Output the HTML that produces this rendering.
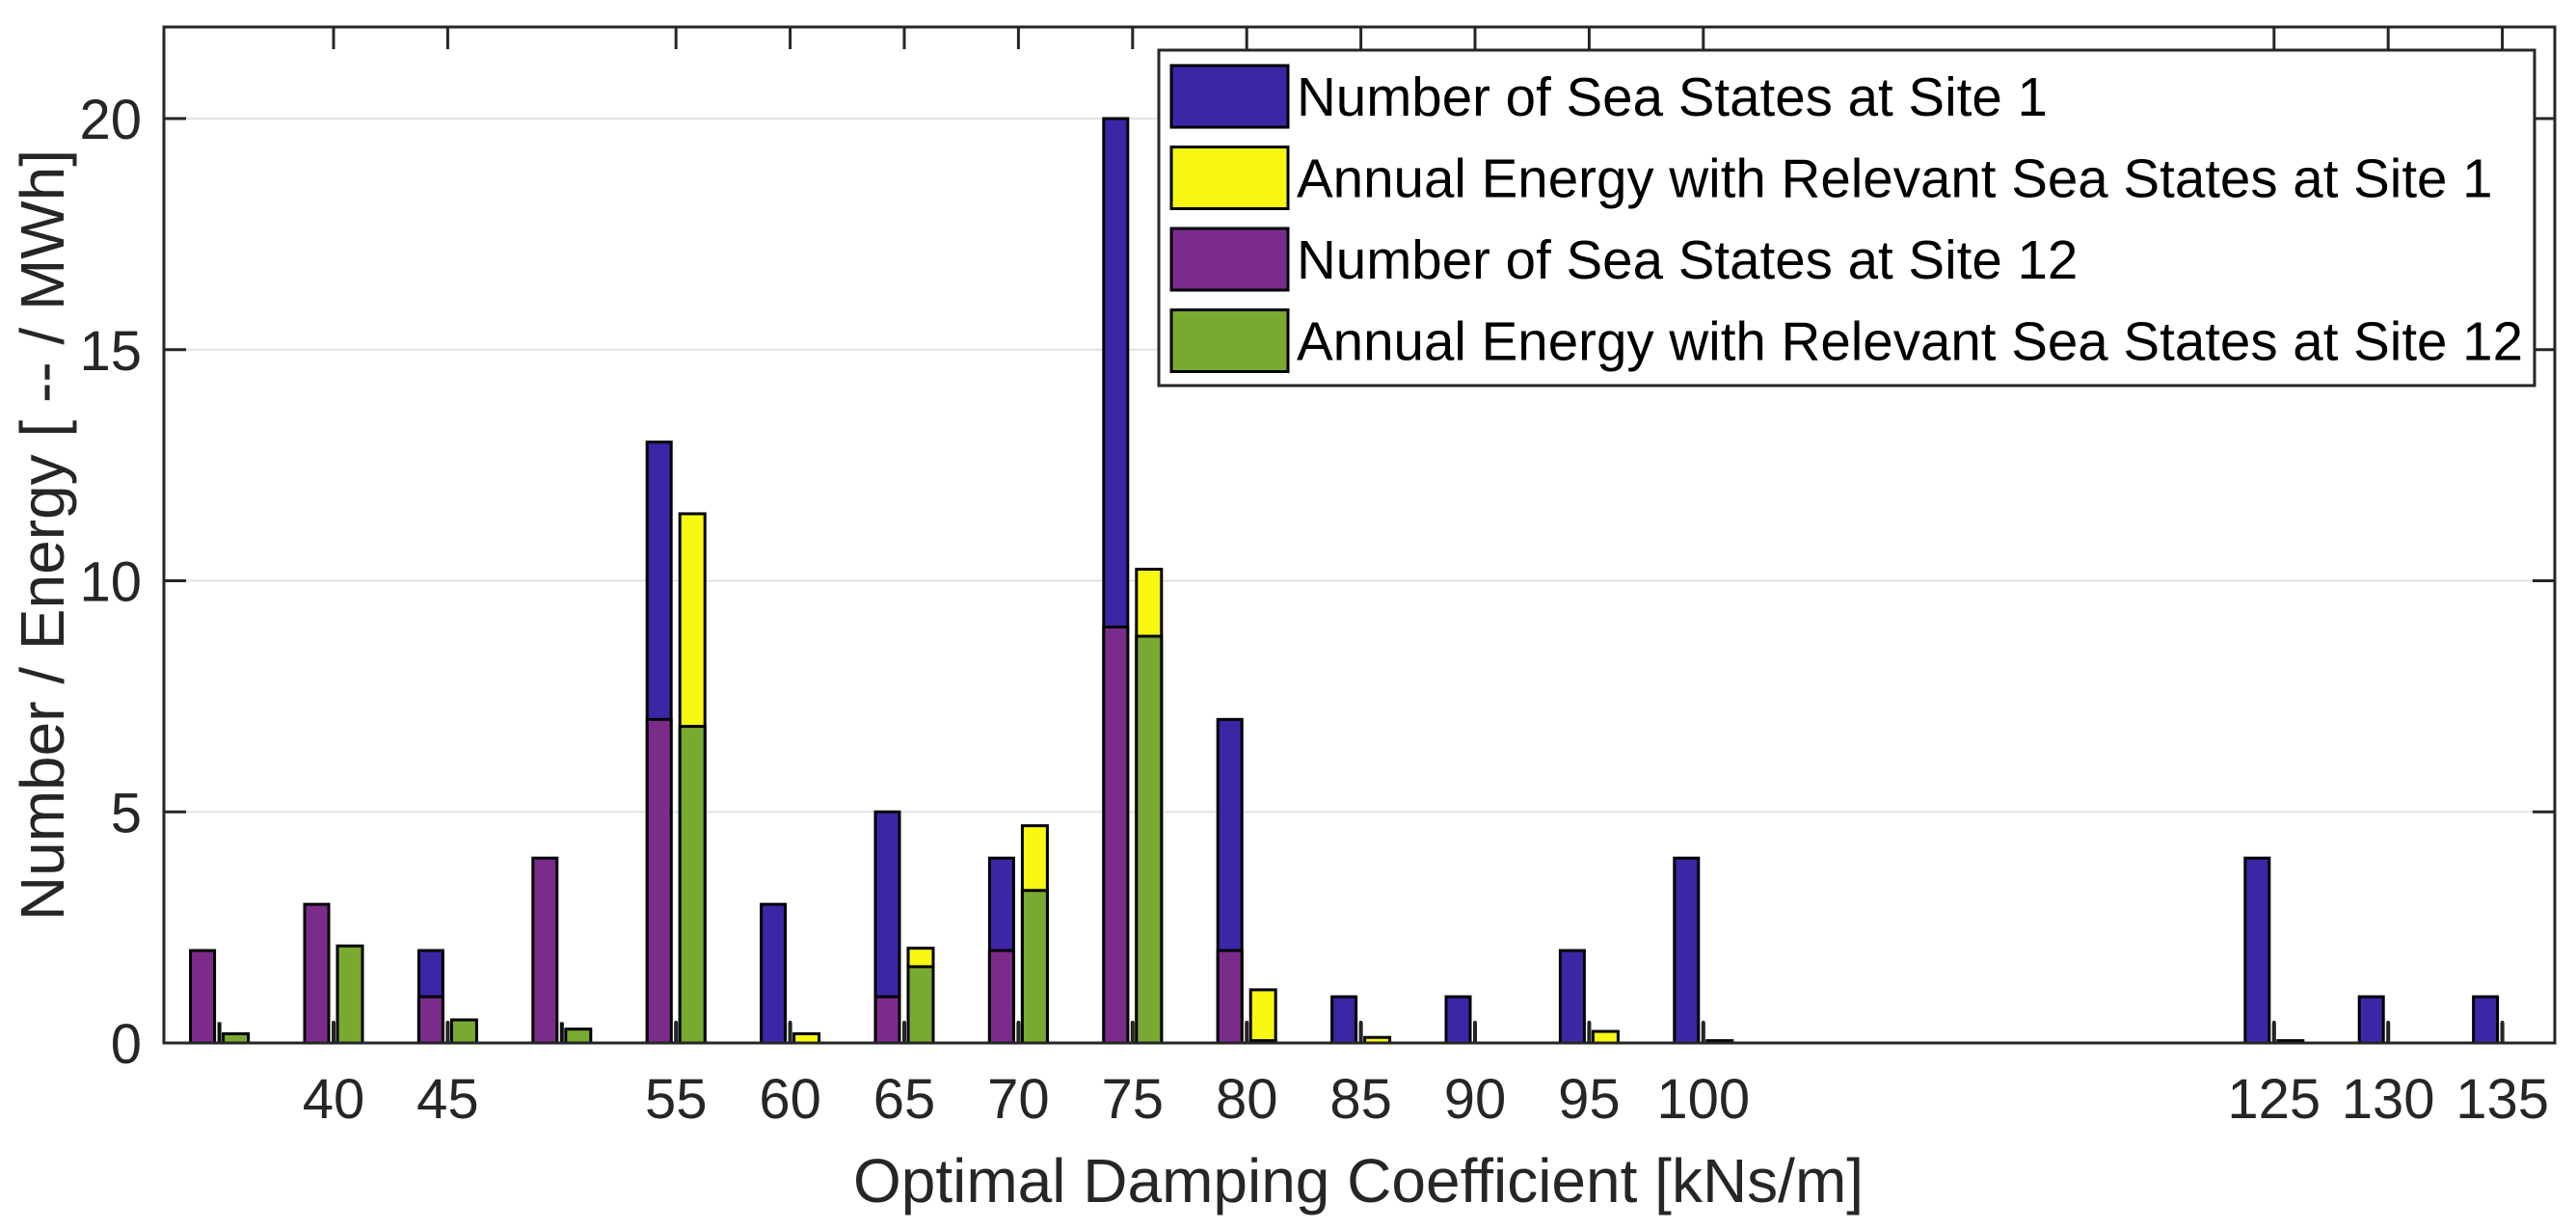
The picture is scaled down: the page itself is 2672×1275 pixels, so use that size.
<!DOCTYPE html>
<html><head><meta charset="utf-8"><style>
html,body{margin:0;padding:0;background:#fff;}
svg{display:block;font-family:"Liberation Sans",Arial,sans-serif;}
</style></head><body>
<svg id="chart" width="2672" height="1275" viewBox="0 0 2672 1275">
<rect x="0" y="0" width="2672" height="1275" fill="#fff"/>
<g id="grid"></g>
<g id="bars"></g>
<g id="axes"></g>
<text x="1409" y="1247" font-size="64" text-anchor="middle" fill="#262626">Optimal Damping Coefficient [kNs/m]</text>
<text transform="translate(66,555) rotate(-90)" font-size="64" text-anchor="middle" fill="#262626">Number / Energy [ -- / MWh]</text>
<g id="legend"></g>
</svg>
<script>
const categories = [35,40,45,50,55,60,65,70,75,80,85,90,95,100,125,130,135];
const tickLabels = [40,45,55,60,65,70,75,80,85,90,95,100,125,130,135];
const numSite1 = [0,0,2,0,13,3,5,4,20,7,1,1,2,4,4,1,1];
const numSite12 = [2,3,1,4,7,0,1,2,9,2,0,0,0,0,0,0,0];
const energySite1 = [0,0,0,0,11.45,0.2,2.05,4.7,10.25,1.15,0.12,0,0.25,0.05,0.05,0,0];
const energySite12 = [0.2,2.1,0.5,0.3,6.85,0,1.65,3.3,8.8,0.05,0,0,0,0,0,0,0];
const yTicks = [0,5,10,15,20];
const legendLabels = ["Number of Sea States at Site 1","Annual Energy with Relevant Sea States at Site 1","Number of Sea States at Site 12","Annual Energy with Relevant Sea States at Site 12"];
const colors = ["#3c26a6","#f7f712","#7b2c8b","#78a931"];

const L=170,R=2650,T=28,B=1082;
const xs = v => 346 + (v-40)*23.68;
const ys = v => B - v*47.95;
const NS="http://www.w3.org/2000/svg";
function mk(tag,attrs,parent){const e=document.createElementNS(NS,tag);for(const k in attrs)e.setAttribute(k,attrs[k]);parent.appendChild(e);return e;}
const grid=document.getElementById('grid'),bars=document.getElementById('bars'),axes=document.getElementById('axes'),leg=document.getElementById('legend');

yTicks.forEach(t=>{
  if(t>0){const g=mk('line',{x1:L,x2:R,y1:ys(t),y2:ys(t),stroke:'#e2e2e2','stroke-width':2},grid);
  
  }
  const l1=mk('line',{x1:L,x2:L+23,y1:ys(t),y2:ys(t),stroke:'#262626','stroke-width':3},axes);
  
  
  const l2=mk('line',{x1:R-23,x2:R,y1:ys(t),y2:ys(t),stroke:'#262626','stroke-width':3},axes);
  
  
  const tx=mk('text',{x:147,y:ys(t)+21,'font-size':58,'text-anchor':'end',fill:'#262626'},axes);
  tx.textContent=t;
  
  
});

function bar(x0,x1,v,color,name){
  if(v<=0)return;
  const r=mk('rect',{x:x0,y:ys(v),width:x1-x0,height:B-ys(v),fill:color,stroke:'#000','stroke-width':3},bars);
  
  
}
categories.forEach((c,i)=>{
  const x=xs(c);
  bar(x-30,x-5,numSite1[i],colors[0],'bar-number-site1');
  bar(x-30,x-5,numSite12[i],colors[2],'bar-number-site12');
  bar(x+4,x+30,energySite1[i],colors[1],'bar-energy-site1');
  bar(x+4,x+30,energySite12[i],colors[3],'bar-energy-site12');
  const m=mk('rect',{x:x-2,y:ys(0.45),width:4,height:B-ys(0.45),fill:'#111'},bars);
  
  
});

tickLabels.forEach(t=>{
  const x=xs(t);
  const a=mk('line',{x1:x,x2:x,y1:B,y2:B-23,stroke:'#262626','stroke-width':3},axes);
  
  
  const b=mk('line',{x1:x,x2:x,y1:T,y2:T+23,stroke:'#262626','stroke-width':3},axes);
  
  
  const tx=mk('text',{x:x,y:1160,'font-size':58,'text-anchor':'middle',fill:'#262626'},axes);
  tx.textContent=t;
  
  
});
const box=mk('rect',{x:L,y:T,width:R-L,height:B-T,fill:'none',stroke:'#262626','stroke-width':3},axes);



const lb=mk('rect',{x:1202,y:52,width:1427,height:348,fill:'#fff',stroke:'#262626','stroke-width':3},leg);


legendLabels.forEach((s,i)=>{
  const cy=100+i*84.5;
  const sw=mk('rect',{x:1215,y:cy-32,width:121,height:64,fill:colors[i],stroke:'#000','stroke-width':3},leg);
  
  
  const tx=mk('text',{x:1345,y:cy+20,'font-size':56.5,fill:'#000'},leg);
  tx.textContent=s;
  
  
});
</script>
</body></html>
